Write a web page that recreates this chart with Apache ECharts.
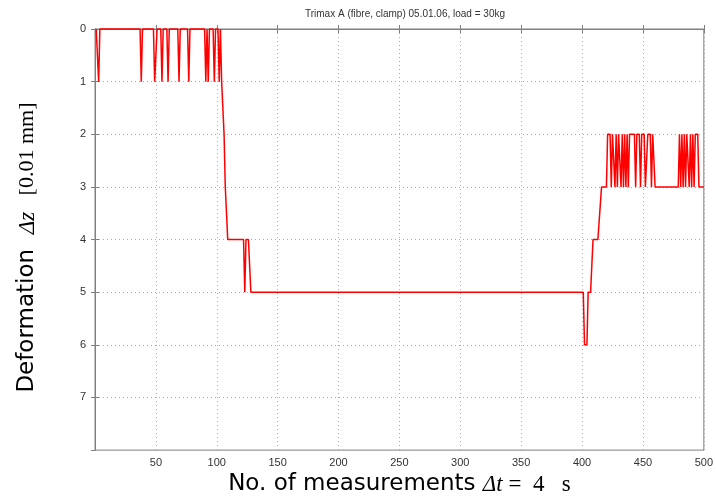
<!DOCTYPE html>
<html>
<head>
<meta charset="utf-8">
<script src="https://cdn.jsdelivr.net/npm/echarts@6/dist/echarts.min.js"></script>
<style>
  html, body { margin: 0; padding: 0; background: #fff; }
  #chart { width: 716px; height: 501px; }
</style>
</head>
<body>
<div id="chart"></div>
<script>
const sampleNo = [
  1, 2, 3, 4, 37, 38, 39, 48, 49, 50, 51, 54, 55, 56, 59, 60, 61, 68, 69, 70,
  76, 77, 78, 90, 91, 92, 93, 94, 97, 98, 99, 101, 102, 103, 104, 105,
  106, 107, 109, 122, 123, 124, 126, 128, 401, 402, 404, 405, 407, 409, 413, 416,
  420, 421, 423, 424, 425, 426, 427, 428, 429, 430, 432, 433, 434, 435, 436, 437, 438, 439,
  443, 444, 445, 447, 448, 449, 451, 452, 453, 454, 456, 457, 458, 459, 460,
  479, 480, 481, 482, 483, 484, 485, 486, 487, 488, 489, 490, 491, 492, 493, 495, 496, 500
];
const deformation = [
  0, 0, 1, 0, 0, 1, 0, 0, 1, 1, 0, 0, 1, 0, 0, 1, 0, 0, 1, 0,
  0, 1, 0, 0, 1, 0, 1, 0, 0, 1, 0, 0, 1, 0, 1, 1,
  2, 3, 4, 4, 5, 4, 4, 5, 5, 6, 6, 5, 5, 4, 4, 3,
  3, 2, 2, 3, 2, 2, 3, 2, 3, 2, 3, 2, 3, 2, 3, 2, 3, 2,
  2, 3, 2, 2, 3, 2, 2, 3, 3, 2, 2, 3, 2, 2, 3,
  3, 2, 3, 2, 3, 2, 3, 2, 2, 3, 2, 3, 2, 3, 2, 2, 3, 3
];
const xTicks = { min: 0, max: 500, step: 50 };
const yTicks = { min: 0, max: 8, step: 1 };

const chart = echarts.init(document.getElementById('chart'));

const axisGray = '#808080';
const gridLine = { show: true, lineStyle: { color: '#aaa', type: [1, 3], width: 1 } };
const frameLine = { show: true, lineStyle: { color: axisGray, width: 1 } };
const innerTick = { show: true, inside: true, length: 4, lineStyle: { color: axisGray } };
const labelFont = { color: '#333', fontSize: 11, fontFamily: 'Liberation Sans, Arial' };

chart.setOption({
  animation: false,
  title: {
    text: 'Trimax A (fibre, clamp) 05.01.06, load = 30kg',
    left: 400, top: 4, textAlign: 'center',
    textStyle: { fontSize: 10, fontWeight: 'normal', color: '#333', fontFamily: 'Liberation Sans, Arial' }
  },
  grid: { left: 95, right: 10, top: 29, bottom: 49, show: true, borderColor: axisGray, borderWidth: 1 },
  xAxis: [
    {
      type: 'value', min: xTicks.min, max: xTicks.max, interval: xTicks.step,
      axisLine: frameLine,
      axisTick: innerTick,
      axisLabel: Object.assign({ showMinLabel: false, margin: 7 }, labelFont),
      splitLine: gridLine,
      name: '{a|No. of measurements }{b|Δt}{c| =  4   s}',
      nameLocation: 'middle', nameGap: 22,
      nameTextStyle: {
        rich: {
          a: { fontSize: 23, color: '#000', fontFamily: 'DejaVu Sans' },
          b: { fontSize: 23, color: '#000', fontStyle: 'italic', fontFamily: 'Liberation Serif' },
          c: { fontSize: 23, color: '#000', fontFamily: 'Liberation Serif' }
        }
      }
    },
    {
      type: 'value', position: 'top', min: xTicks.min, max: xTicks.max, interval: xTicks.step,
      axisLine: frameLine, axisTick: innerTick,
      axisLabel: { show: false }, splitLine: { show: false }
    }
  ],
  yAxis: [
    {
      type: 'value', inverse: true, min: yTicks.min, max: yTicks.max, interval: yTicks.step,
      axisLine: frameLine,
      axisTick: innerTick,
      axisLabel: Object.assign({ showMaxLabel: false, margin: 9 }, labelFont),
      splitLine: gridLine,
      name: '{a|Deformation  }{b|Δz}{c|   [0.01 mm]}',
      nameLocation: 'middle', nameGap: 56, nameRotate: 90,
      nameTextStyle: {
        padding: [0, 16, 0, 0],
        rich: {
          a: { fontSize: 23, color: '#000', fontFamily: 'DejaVu Sans' },
          b: { fontSize: 23, color: '#000', fontStyle: 'italic', fontFamily: 'Liberation Serif' },
          c: { fontSize: 22, color: '#000', fontFamily: 'Liberation Serif' }
        }
      }
    },
    {
      type: 'value', position: 'right', inverse: true, min: yTicks.min, max: yTicks.max, interval: yTicks.step,
      axisLine: frameLine, axisTick: innerTick,
      axisLabel: { show: false }, splitLine: { show: false }
    }
  ],
  series: [
    {
      type: 'line',
      data: sampleNo.map((x, i) => [x, deformation[i]]),
      showSymbol: false,
      lineStyle: { color: '#ff0000', width: 1.5 },
      clip: false
    }
  ]
});
</script>
</body>
</html>
